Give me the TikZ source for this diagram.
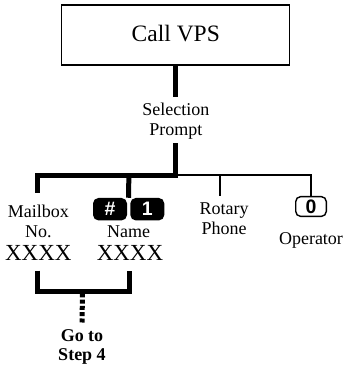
\documentclass[tikz,border=0pt]{standalone}
\usepackage{fontspec}
\setmainfont{Liberation Serif}
\newfontfamily\keyfont{Liberation Sans}
\usetikzlibrary{calc}
\tikzset{
 thickln/.style={line width=5pt},
 thinln/.style={line width=1.3pt},
 lbl/.style={inner sep=0pt, align=center, font=\fontsize{18}{20}\selectfont},
 xxxx/.style={inner sep=0pt, anchor=base, font=\fontsize{23}{26}\selectfont},
 blackkey/.style={fill=black, rounded corners=5.5pt, minimum width=34pt, minimum height=22.5pt, inner sep=0pt, text=white, font=\keyfont\bfseries\fontsize{19.5}{20}\selectfont},
 whitekey/.style={draw=black, line width=1.4pt, rounded corners=5pt, minimum width=30.6pt, minimum height=19.8pt, inner sep=0pt, font=\keyfont\bfseries\fontsize{19.5}{20}\selectfont},
 dots/.style={line width=5pt, dash pattern=on 4pt off 2.3pt},
}
\begin{document}
\begin{tikzpicture}[x=1pt,y=-1pt]
\useasboundingbox (0,0) rectangle (346,367);
% top box
\node[draw, line width=1.2pt, minimum width=228pt, minimum height=60pt, inner sep=0pt,
      text height=16pt, text depth=3.4pt, font=\fontsize{23.5}{26}\selectfont] (call) at (175.8,35) {Call VPS};
\coordinate (pa) at (175.8,96.7);
\draw[thickln] (call.south) -- (pa);
% prompt
\node[lbl, anchor=north] (prompt) at (175.8,102.7) {Selection\\Prompt};
\coordinate (pb) at (175.5,143);
\coordinate (jn) at (175.5,175.8);
\coordinate (jm) at (128.8,175.8);
\coordinate (jl) at (37.5,175.8);
\coordinate (mb) at (37.5,193);
% labels
\node[lbl, anchor=north] (mailbox) at (38.3,204.7) {Mailbox\\No.};
\node[lbl, anchor=base] (name) at (128.7,237) {Name};
\node[lbl, anchor=north] (rotary) at (224,202.1) {Rotary\\Phone};
\node[lbl, anchor=base] (operator) at (311,244) {Operator};
\node[xxxx] (xl) at (38.3,260) {XXXX};
\node[xxxx] (xr) at (130,260) {XXXX};
% keys
\node[blackkey] (hash) at (110,209.2) {\#};
\node[blackkey] (one) at (147.3,209.2) {1};
\node[whitekey] (zero) at (311,206.5) {0};
% thick connectors
\draw[thickln] (pb) -- (jn) -- (jl) -- (mb);
\draw[thickln] (jm) -- ($(hash.north east)!0.5!(one.north west)$);
% thin connectors
\coordinate (tn) at (178,175);
\coordinate (tr) at (220,175);
\coordinate (trb) at (220,196);
\draw[thinln] (tn) -- (zero.north |- tn) -- (zero.north);
\draw[thinln] (tr) -- (trb);
% bottom bracket
\coordinate (bl) at (37.5,270.7);
\coordinate (bm) at (82.5,291);
\coordinate (br) at (129,270.7);
\draw[thickln] (bl) |- (bm) -| (br);
\node[inner sep=0pt, align=center, font=\bfseries\fontsize{18}{18.5}\selectfont, anchor=north] (goto) at (82,329.8) {Go to\\Step 4};
\draw[dots] ($(bm)+(0,2.3)$) -- ($(goto.north)+(0,-7.3)$);
\end{tikzpicture}
\end{document}
